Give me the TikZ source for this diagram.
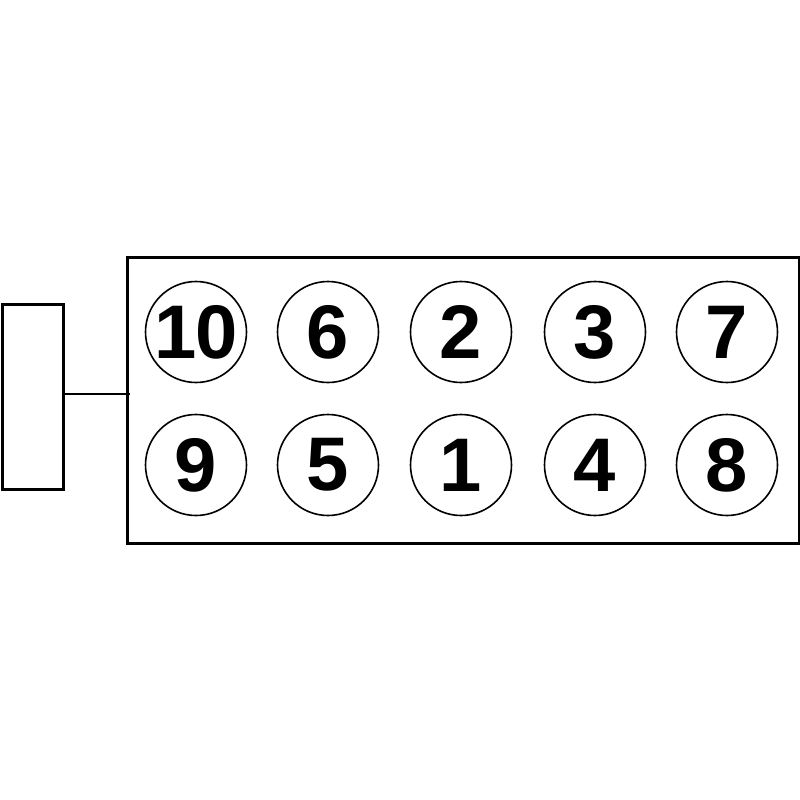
\documentclass[tikz,border=0pt]{standalone}
\usepackage{fontspec}
\setmainfont{Liberation Sans}
\begin{document}
\begin{tikzpicture}[x=1pt,y=-1pt,
  hole/.style={circle,draw=black,line width=1.6pt,minimum size=101pt,inner sep=0pt,
    font=\fontsize{76}{76}\selectfont\bfseries},
  frame/.style={draw=black,line width=2.6pt}]
\useasboundingbox (0,0) rectangle (800,800);
\fill[white] (0,0) rectangle (800,800);
\node[frame,minimum width=672pt,minimum height=286pt,inner sep=0pt,anchor=north west] (block) at (126,256) {};
\node[frame,minimum width=61pt,minimum height=185pt,inner sep=0pt,anchor=north west] (side) at (1.3,303) {};
\coordinate (jn) at (130,394);
\draw[line width=2pt] (side.east |- jn) -- (jn);
\node[hole] (c10) at (196,332) {1\kern-1.5pt0};
\node[hole] (c6) at (328,332) {6};
\node[hole] (c2) at (461,332) {2};
\node[hole] (c3) at (595,332) {3};
\node[hole] (c7) at (727,332) {7};
\node[hole] (c9) at (196,465) {9};
\node[hole] (c5) at (328,465) {5};
\node[hole] (c1) at (461,465) {1};
\node[hole] (c4) at (595,465) {4};
\node[hole] (c8) at (727,465) {8};
\end{tikzpicture}
\end{document}
